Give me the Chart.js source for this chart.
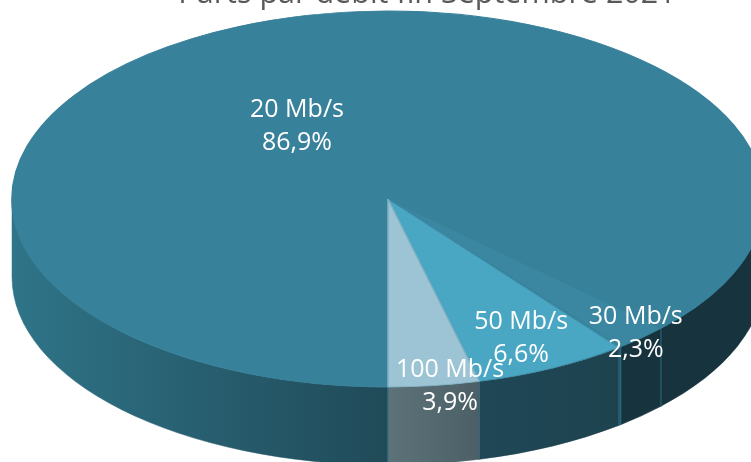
<!DOCTYPE html>
<html><head><meta charset="utf-8">
<style>html,body{margin:0;padding:0;background:#fff}#w{width:751px;height:462px;overflow:hidden}</style>
<script src="https://cdn.jsdelivr.net/npm/chart.js@4/dist/chart.umd.js"></script>
</head><body><div id="w"><canvas id="c" width="751" height="462"></canvas></div>
<script>
const titleText = 'Parts par débit fin Septembre 2021';
const categories = ['20 Mb/s', '30 Mb/s', '', '50 Mb/s', '100 Mb/s'];
const shares = [86.9, 2.3, 0.1, 6.6, 3.9];
const shareLabels = ['86,9%', '2,3%', '', '6,6%', '3,9%'];
const topColors = ['#38819b', '#3b87a2', '#3f93ae', '#49a7c4', '#9cc4d5'];
const edgeColors = ['#38819b', '#37809a', '#37809a', '#3f8ca8', '#7fb0c3'];
const sideLeft = ['#2f7488', '#17333e', '#24586a', '#1f4756', '#5c7379'];
const sideRight = ['#204a58', '#17333e', '#24586a', '#1e434f', '#4c5f66'];
const sideRightPiece = '#17333e';
const geometry = {cx: 388, cy: 199, rx: 376, ry: 188, depth: 78};
const labelSpots = [[-0.242, -0.384], [0.659, 0.716], null, [0.354, 0.746], [0.165, 1.0]];
const font = '"Open Sans", "Noto Sans", sans-serif';

const pie3d = {
  id: 'pie3d',
  beforeDatasetsDraw(chart) {
    const ctx = chart.ctx, g = geometry;
    const arcs = chart.getDatasetMeta(0).data;
    arcs.forEach((a, i) => {
      const p = a.getProps(['startAngle', 'endAngle'], true);
      for (let k = -1; k < 3; k++) {
        const s = Math.max(p.startAngle, k * 2 * Math.PI);
        const e = Math.min(p.endAngle, k * 2 * Math.PI + Math.PI);
        if (e <= s) continue;
        const x1 = g.cx + g.rx * Math.cos(s), x2 = g.cx + g.rx * Math.cos(e);
        const xl = Math.min(x1, x2), xr = Math.max(x1, x2);
        const grad = ctx.createLinearGradient(xl, 0, xr, 0);
        const isRightPiece = i === 0 && xl > g.cx;
        grad.addColorStop(0, isRightPiece ? sideRightPiece : sideLeft[i]);
        grad.addColorStop(1, isRightPiece ? sideRightPiece : sideRight[i]);
        ctx.beginPath();
        ctx.ellipse(g.cx, g.cy, g.rx, g.ry, 0, s, e, false);
        ctx.ellipse(g.cx, g.cy + g.depth, g.rx, g.ry, 0, e, s, true);
        ctx.closePath();
        ctx.fillStyle = grad;
        ctx.fill();
        ctx.strokeStyle = grad;
        ctx.lineWidth = 0.5;
        ctx.stroke();
        [s, e].forEach(ang => {
          if (i === 0 && Math.abs(Math.cos(ang)) > 0.99) return;
          const x = g.cx + g.rx * Math.cos(ang), y = g.cy + g.ry * Math.sin(ang);
          ctx.beginPath();
          ctx.moveTo(x, y);
          ctx.lineTo(x, y + g.depth);
          ctx.strokeStyle = '#2c6a7e';
          ctx.lineWidth = 0.8;
          ctx.stroke();
        });
      }
    });
    const el = arcs[0];
    ctx.save();
    ctx.translate(g.cx, g.cy);
    ctx.scale(g.rx / el.outerRadius, g.ry / el.outerRadius);
    ctx.translate(-el.x, -el.y);
  },
  afterDatasetsDraw(chart) {
    const ctx = chart.ctx, g = geometry;
    ctx.restore();
    ctx.save();
    ctx.fillStyle = '#fff';
    ctx.font = '25px ' + font;
    ctx.textAlign = 'center';
    ctx.textBaseline = 'middle';
    categories.forEach((name, i) => {
      if (!labelSpots[i]) return;
      const x = g.cx + labelSpots[i][0] * g.rx, y = g.cy + labelSpots[i][1] * g.ry;
      ctx.fillText(name, x, y - 17);
      ctx.fillText(shareLabels[i], x, y + 16);
    });
    ctx.fillStyle = '#595959';
    ctx.font = '30.5px ' + font;
    ctx.textBaseline = 'alphabetic';
    ctx.fillText(titleText, 427, 3);
    ctx.restore();
  }
};

new Chart(document.getElementById('c'), {
  type: 'pie',
  data: {
    labels: categories,
    datasets: [{
      data: shares,
      backgroundColor: topColors,
      borderColor: edgeColors,
      borderWidth: 1,
      clip: false
    }]
  },
  options: {
    responsive: false,
    animation: false,
    rotation: 180,
    layout: {padding: 0},
    plugins: {legend: {display: false}, tooltip: {enabled: false}}
  },
  plugins: [pie3d]
});
</script></body></html>
